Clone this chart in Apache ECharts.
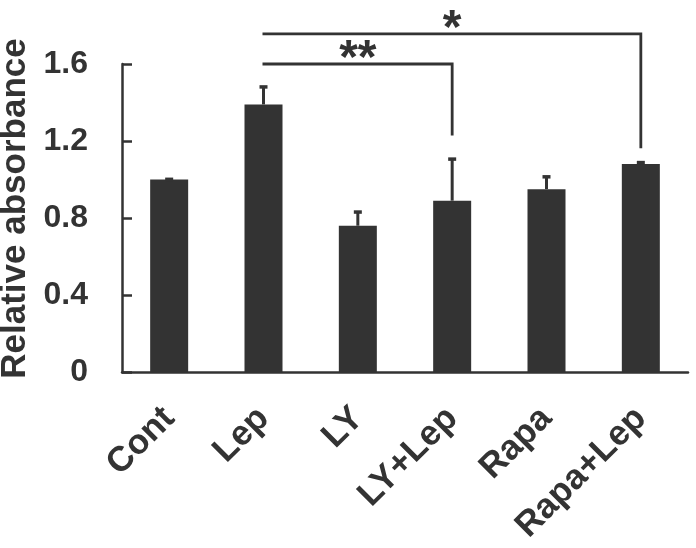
<!DOCTYPE html>
<html>
<head>
<meta charset="utf-8">
<script src="https://cdn.jsdelivr.net/npm/echarts@6/dist/echarts.min.js"></script>
<style>
html,body{margin:0;padding:0;background:#fff;}
#chart{width:696px;height:548px;}
</style>
</head>
<body>
<div id="chart"></div>
<script>
// ---- data ----
var categories = ['Cont', 'Lep', 'LY', 'LY+Lep', 'Rapa', 'Rapa+Lep'];
var means = [1.00, 1.39, 0.76, 0.89, 0.95, 1.08];
var errors = [0.01, 0.10, 0.08, 0.225, 0.073, 0.017];
var yTicks = [0, 0.4, 0.8, 1.2, 1.6];
// significance brackets: [from category index, to category index, bracket level, drop end, label]
var brackets = [
  [1, 3, 1.60, 1.228, '**'],
  [1, 5, 1.757, 1.162, '*']
];

var ink = '#333333';
var font = '"Liberation Sans", Arial, sans-serif';

var errData = means.map(function (m, i) { return [i, m, m + errors[i]]; });

var chart = echarts.init(document.getElementById('chart'), null, {renderer: 'canvas'});
chart.setOption({
  animation: false,
  grid: {left: 122, right: 8, top: 64, bottom: 176, containLabel: false, outerBoundsMode: 'none'},
  xAxis: {
    type: 'category',
    data: categories,
    axisLine: {lineStyle: {color: ink, width: 2.5}},
    axisTick: {show: false},
    axisLabel: {
      rotate: 45, interval: 0, margin: 41,
      color: ink, fontFamily: font, fontWeight: 'bold', fontSize: 35
    }
  },
  yAxis: {
    type: 'value',
    min: yTicks[0], max: yTicks[yTicks.length - 1], interval: 0.4,
    name: 'Relative absorbance',
    nameLocation: 'middle',
    nameGap: 86,
    nameTextStyle: {color: ink, fontFamily: font, fontWeight: 'bold', fontSize: 35, padding: [0, 0, 0, 19]},
    axisLine: {show: true, lineStyle: {color: ink, width: 2.5}},
    axisTick: {show: true, inside: true, length: 10, lineStyle: {color: ink, width: 2.5}},
    splitLine: {show: false},
    axisLabel: {
      margin: 34, color: ink, fontFamily: font, fontWeight: 'bold', fontSize: 32,
      formatter: function (v) { return v === 0 ? '0' : v.toFixed(1); }
    }
  },
  series: [
    {
      type: 'bar',
      data: means,
      barWidth: 38,
      itemStyle: {color: ink},
      z: 2
    },
    {
      type: 'custom',
      data: errData,
      z: 3,
      renderItem: function (params, api) {
        var x = api.value(0);
        var top = api.coord([x, api.value(1)]);
        var hi = api.coord([x, api.value(2)]);
        return {
          type: 'group',
          children: [
            {type: 'line', shape: {x1: top[0], y1: top[1], x2: hi[0], y2: hi[1] + 2},
              style: {stroke: ink, lineWidth: 3}},
            {type: 'rect', shape: {x: hi[0] - 4, y: hi[1], width: 8, height: 3.5},
              style: {fill: ink}}
          ]
        };
      }
    },
    {
      type: 'custom',
      data: brackets,
      z: 4,
      clip: false,
      renderItem: function (params, api) {
        var a = api.value(0), b = api.value(1);
        var p1 = api.coord([a, api.value(2)]);
        var p2 = api.coord([b, api.value(2)]);
        var p3 = api.coord([b, api.value(3)]);
        var label = brackets[params.dataIndex][4];
        return {
          type: 'group',
          children: [
            {type: 'polyline', shape: {points: [[p1[0] - 1, p1[1]], [p2[0], p2[1]], [p3[0], p3[1]]]},
              style: {stroke: ink, lineWidth: 2.8, fill: null}},
            {type: 'text', x: (p1[0] + p2[0]) / 2, y: p1[1] + 20,
              style: {text: label, fill: ink, font: 'bold 48px ' + font, align: 'center', verticalAlign: 'bottom'}}
          ]
        };
      }
    }
  ]
});
</script>
</body>
</html>
